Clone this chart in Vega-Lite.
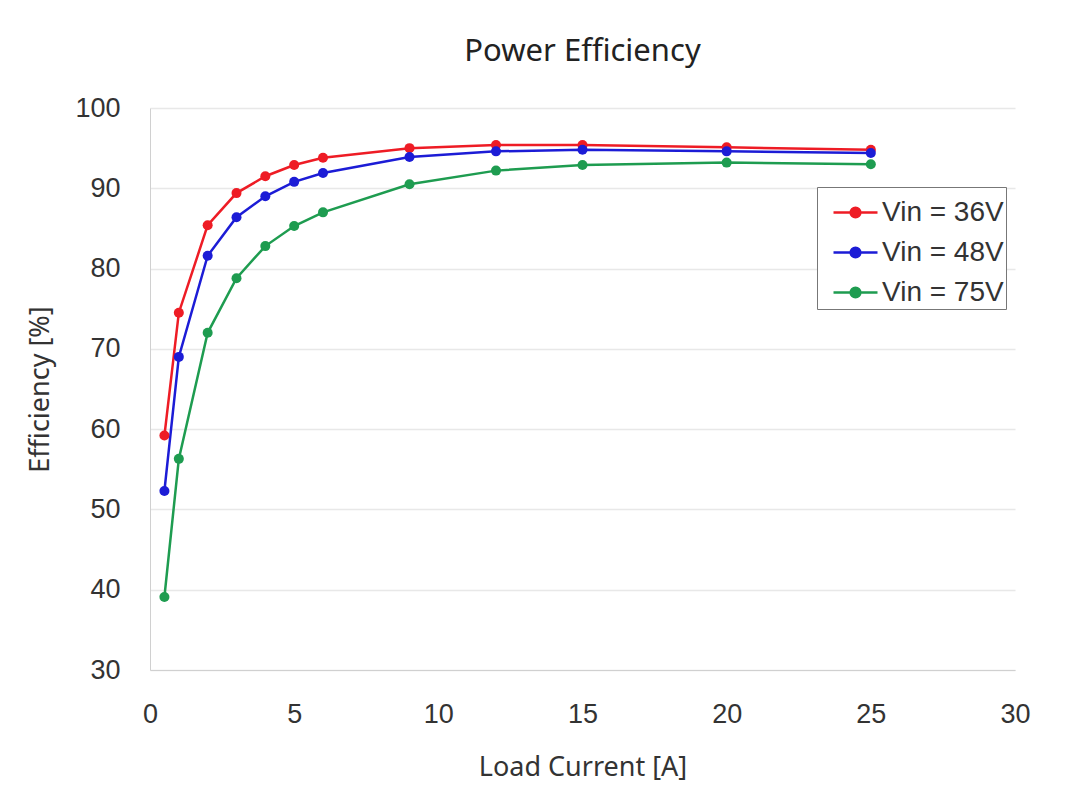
{
  "$schema": "https://vega.github.io/schema/vega-lite/v6.json",
  "width": 865,
  "height": 562,
  "autosize": {"type": "none"},
  "padding": {"left": 150, "top": 108, "right": 65, "bottom": 133},
  "background": "white",
  "title": {"text": "Power Efficiency", "fontSize": 31, "font": "Noto Sans", "fontWeight": "normal", "color": "#222", "offset": 26, "anchor": "middle"},
  "config": {
    "view": {"stroke": null},
    "axis": {"labelFont": "Liberation Sans", "titleFont": "Noto Sans", "labelColor": "#333", "titleColor": "#333", "titleFontWeight": "normal", "ticks": false, "labelFlush": false, "domainColor": "#d0d0d0", "gridColor": "#e8e8e8", "gridWidth": 1.5}
  },
  "data": {"values": [
    {"I": 0.5, "eff": 59.2, "s": "Vin = 36V"},
    {"I": 1, "eff": 74.5, "s": "Vin = 36V"},
    {"I": 2, "eff": 85.4, "s": "Vin = 36V"},
    {"I": 3, "eff": 89.4, "s": "Vin = 36V"},
    {"I": 4, "eff": 91.5, "s": "Vin = 36V"},
    {"I": 5, "eff": 92.9, "s": "Vin = 36V"},
    {"I": 6, "eff": 93.8, "s": "Vin = 36V"},
    {"I": 9, "eff": 95.0, "s": "Vin = 36V"},
    {"I": 12, "eff": 95.4, "s": "Vin = 36V"},
    {"I": 15, "eff": 95.4, "s": "Vin = 36V"},
    {"I": 20, "eff": 95.1, "s": "Vin = 36V"},
    {"I": 25, "eff": 94.8, "s": "Vin = 36V"},
    {"I": 0.5, "eff": 52.3, "s": "Vin = 48V"},
    {"I": 1, "eff": 69.0, "s": "Vin = 48V"},
    {"I": 2, "eff": 81.6, "s": "Vin = 48V"},
    {"I": 3, "eff": 86.4, "s": "Vin = 48V"},
    {"I": 4, "eff": 89.0, "s": "Vin = 48V"},
    {"I": 5, "eff": 90.8, "s": "Vin = 48V"},
    {"I": 6, "eff": 91.9, "s": "Vin = 48V"},
    {"I": 9, "eff": 93.9, "s": "Vin = 48V"},
    {"I": 12, "eff": 94.6, "s": "Vin = 48V"},
    {"I": 15, "eff": 94.8, "s": "Vin = 48V"},
    {"I": 20, "eff": 94.6, "s": "Vin = 48V"},
    {"I": 25, "eff": 94.4, "s": "Vin = 48V"},
    {"I": 0.5, "eff": 39.1, "s": "Vin = 75V"},
    {"I": 1, "eff": 56.3, "s": "Vin = 75V"},
    {"I": 2, "eff": 72.0, "s": "Vin = 75V"},
    {"I": 3, "eff": 78.8, "s": "Vin = 75V"},
    {"I": 4, "eff": 82.8, "s": "Vin = 75V"},
    {"I": 5, "eff": 85.3, "s": "Vin = 75V"},
    {"I": 6, "eff": 87.0, "s": "Vin = 75V"},
    {"I": 9, "eff": 90.5, "s": "Vin = 75V"},
    {"I": 12, "eff": 92.2, "s": "Vin = 75V"},
    {"I": 15, "eff": 92.9, "s": "Vin = 75V"},
    {"I": 20, "eff": 93.2, "s": "Vin = 75V"},
    {"I": 25, "eff": 93.0, "s": "Vin = 75V"}
  ]},
  "encoding": {
    "x": {"field": "I", "type": "quantitative", "scale": {"domain": [0, 30], "nice": false}, "axis": {"values": [0, 5, 10, 15, 20, 25, 30], "grid": false, "title": "Load Current [A]", "labelFontSize": 27, "titleFontSize": 27, "labelPadding": 31, "titlePadding": 27}},
    "y": {"field": "eff", "type": "quantitative", "scale": {"domain": [30, 100], "nice": false, "zero": false}, "axis": {"values": [30, 40, 50, 60, 70, 80, 90, 100], "title": "Efficiency [%]", "labelFontSize": 27, "titleFontSize": 27, "labelPadding": 30, "titlePadding": 20}},
    "color": {"field": "s", "type": "nominal", "scale": {"domain": ["Vin = 36V", "Vin = 48V", "Vin = 75V"], "range": ["#ee1c25", "#1c1cd6", "#1e9c50"]},
      "legend": {"title": null, "orient": "none", "legendX": 667, "legendY": 79, "direction": "vertical", "strokeColor": "#777", "fillColor": "white", "padding": 2, "labelFont": "Liberation Sans", "labelFontSize": 28, "labelColor": "#333", "rowPadding": 2, "labelOffset": 3, "symbolOffset": 13, "labelLimit": 250,
        "labelExpr": "datum.label + '\u00a0\u00a0'",
        "symbolType": "M-1,0L1,0M-0.22,0A0.22,0.22 0 1 0 0.22,0A0.22,0.22 0 1 0 -0.22,0Z", "symbolSize": 1936, "symbolStrokeWidth": 2.5,
        "encode": {"symbols": {"update": {"fill": {"scale": "color", "field": "value"}, "stroke": {"scale": "color", "field": "value"}}}}}}
  },
  "layer": [
    {"mark": {"type": "line", "strokeWidth": 2.5}},
    {"mark": {"type": "point", "filled": true, "size": 100, "opacity": 1}}
  ]
}
